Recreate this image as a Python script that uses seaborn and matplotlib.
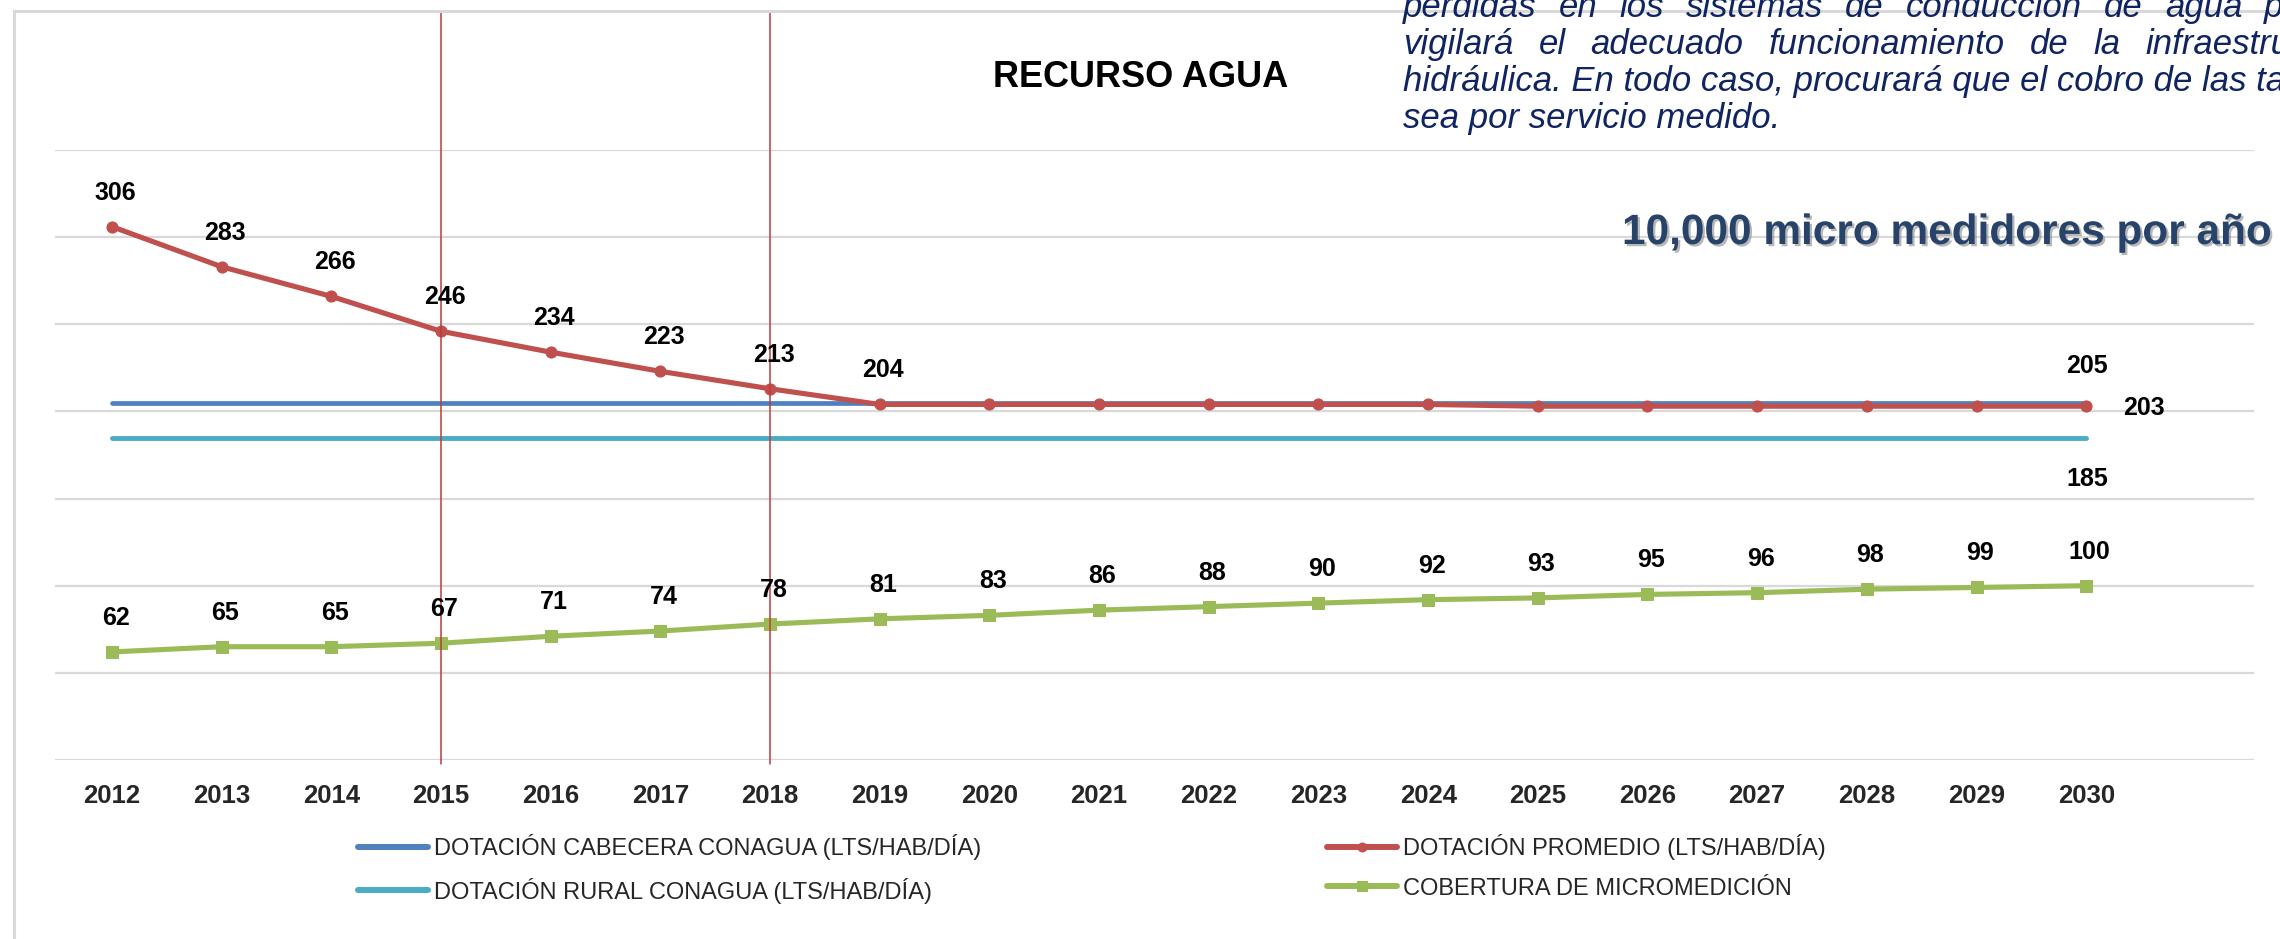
import matplotlib
matplotlib.use('Agg')
import matplotlib.pyplot as plt
import matplotlib.patheffects as pe
from matplotlib.patches import Rectangle
import pandas as pd
import seaborn as sns

# Data
years = [2012, 2013, 2014, 2015, 2016, 2017, 2018, 2019, 2020, 2021,
         2022, 2023, 2024, 2025, 2026, 2027, 2028, 2029, 2030]
dotacion_cabecera = [205, 205, 205, 205, 205, 205, 205, 205, 205, 205,
                     205, 205, 205, 205, 205, 205, 205, 205, 205]
dotacion_rural = [185, 185, 185, 185, 185, 185, 185, 185, 185, 185,
                  185, 185, 185, 185, 185, 185, 185, 185, 185]
dotacion_promedio = [306, 283, 266, 246, 234, 223, 213, 204, 204, 204,
                     204, 204, 204, 203, 203, 203, 203, 203, 203]
cobertura = [62, 65, 65, 67, 71, 74, 78, 81, 83, 86,
             88, 90, 92, 93, 95, 96, 98, 99, 100]
marked_years = [2015, 2018]
red_label_years = [2012, 2013, 2014, 2015, 2016, 2017, 2018, 2019]

series_names = ['DOTACIÓN CABECERA CONAGUA (LTS/HAB/DÍA)',
                'DOTACIÓN RURAL CONAGUA (LTS/HAB/DÍA)',
                'DOTACIÓN PROMEDIO (LTS/HAB/DÍA)',
                'COBERTURA DE MICROMEDICIÓN']
colors = ['#4F81BD', '#4BACC6', '#C0504D', '#9BBB59']

df = pd.DataFrame({'year': years,
                   series_names[0]: dotacion_cabecera,
                   series_names[1]: dotacion_rural,
                   series_names[2]: dotacion_promedio,
                   series_names[3]: cobertura})

sns.set_style('white')
plt.rcParams['font.family'] = ['Liberation Sans', 'DejaVu Sans']

W, H = 2280, 939
def fx(px):
    return px / W
def fy(py):
    return 1 - py / H

fig = plt.figure(figsize=(22.8, 9.39), dpi=100)
ax = fig.add_axes([fx(55), fy(760), fx(2254) - fx(55), fy(150) - fy(760)])

# chart frame
fig.add_artist(Rectangle((fx(14), -0.2), 1.2, fy(11) + 0.2, transform=fig.transFigure,
                         fill=False, edgecolor='#D9D9D9', lw=2.2, zorder=0.5))

sns.lineplot(data=df, x='year', y=series_names[0], color=colors[0], lw=3.4,
             label=series_names[0], legend=False, ax=ax, zorder=3)
sns.lineplot(data=df, x='year', y=series_names[1], color=colors[1], lw=3.5,
             label=series_names[1], legend=False, ax=ax, zorder=3)
sns.lineplot(data=df, x='year', y=series_names[2], color=colors[2], lw=3.7,
             marker='o', markersize=8, markeredgecolor=colors[2],
             label=series_names[2], legend=False, ax=ax, zorder=4)
sns.lineplot(data=df, x='year', y=series_names[3], color=colors[3], lw=3.7,
             marker='s', markersize=9, markeredgecolor=colors[3],
             label=series_names[3], legend=False, ax=ax, zorder=4)

ax.set_xlim(2011.48, 2031.53)
ax.set_ylim(0, 350)
ax.set_yticks(range(0, 351, 50))
ax.set_yticklabels([])
ax.set_xticks(years)
ax.set_xticklabels([str(y) for y in years], fontsize=18.5, fontweight='bold')
ax.tick_params(axis='x', length=0, pad=17)
ax.tick_params(axis='y', length=0)
ax.set_xlabel('')
ax.set_ylabel('')
ax.yaxis.grid(True, color='#D9D9D9', lw=1.6)
ax.xaxis.grid(False)
ax.set_axisbelow(True)
for s in ax.spines.values():
    s.set_visible(False)

# vertical marker lines
for yr in marked_years:
    ax.axvline(yr, ymin=-0.007, ymax=(760 - 11) / 610, color='#BE3A3A', lw=1.1,
               clip_on=False, zorder=6)

# data labels
lab_kw = dict(textcoords='offset points', ha='center', va='center',
              fontsize=18, fontweight='bold', color='black', zorder=7)
for yr, v in zip(years, dotacion_promedio):
    if yr in red_label_years:
        ax.annotate(str(v), (yr, v), xytext=(2.5, 24.5), **lab_kw)
ax.annotate(str(dotacion_promedio[-1]), (years[-1], dotacion_promedio[-1]),
            xytext=(41.5, -1.5), **lab_kw)
ax.annotate(str(dotacion_cabecera[-1]), (years[-1], dotacion_cabecera[-1]),
            xytext=(0.5, 26.5), **lab_kw)
ax.annotate(str(dotacion_rural[-1]), (years[-1], dotacion_rural[-1]),
            xytext=(0.5, -30), **lab_kw)
for yr, v in zip(years, cobertura):
    ax.annotate(str(v), (yr, v), xytext=(2.5, 24.5), **lab_kw)

# legends
handles, labels = ax.get_legend_handles_labels()
if ax.get_legend() is not None:
    ax.get_legend().remove()
leg_kw = dict(loc='upper left', frameon=False, fontsize=17, borderpad=0,
              borderaxespad=0, handlelength=2.95, handletextpad=0.25,
              labelspacing=0.75, numpoints=1, markerscale=0.8)
leg1 = fig.legend(handles[:2], labels[:2], bbox_to_anchor=(fx(358), fy(834)), **leg_kw)
leg2 = fig.legend(handles[2:], labels[2:], bbox_to_anchor=(fx(1327), fy(834)), **leg_kw)
for leg in (leg1, leg2):
    for ln in leg.get_lines():
        ln.set_linewidth(4.3)
        ln.set_solid_capstyle('round')

# title
fig.text(fx(1141), fy(87), 'RECURSO AGUA', ha='center', va='baseline',
         fontsize=26, fontweight='bold', color='black')

# justified paragraph at the top right
para_kw = dict(fontsize=25, style='italic', color='#0F2461', va='baseline',
               ha='left', zorder=5)
renderer = fig.canvas.get_renderer()
def put_words(words, x0, y0, gap):
    x = x0
    for w in words:
        t = fig.text(fx(x), fy(y0), w, **para_kw)
        bb = t.get_window_extent(renderer)
        x = bb.x1 + gap

put_words('pérdidas en los sistemas de conducción de agua potable y'.split(), 1403, 17, 22)
put_words('vigilará el adecuado funcionamiento de la infraestructura'.split(), 1403, 54, 25)
fig.text(fx(1403), fy(91), 'hidráulica. En todo caso, procurará que el cobro de las tarifas', **para_kw)
fig.text(fx(1403), fy(128), 'sea por servicio medido.', **para_kw)

fig.text(fx(1622), fy(244), '10,000 micro medidores por año', ha='left', va='baseline',
         fontsize=30.5, fontweight='bold', color='#28436A', zorder=5,
         path_effects=[pe.withSimplePatchShadow(offset=(1.6, -1.6), shadow_rgbFace='#7F7F7F', alpha=0.55)])

fig.savefig('out.png', dpi=100)
